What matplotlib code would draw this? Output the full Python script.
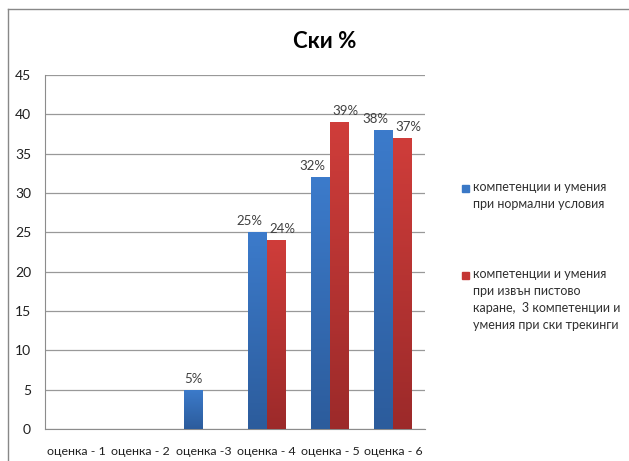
import matplotlib.pyplot as plt
import numpy as np
from matplotlib.colors import LinearSegmentedColormap
from matplotlib.lines import Line2D
from matplotlib.patches import Rectangle

categories = ["оценка - 1", "оценка - 2", "оценка -3", "оценка - 4", "оценка - 5", "оценка - 6"]
normal = [0, 0, 5, 25, 32, 38]
offpiste = [0, 0, 0, 24, 39, 37]
series_names = [
    "компетенции и умения\nпри нормални условия",
    "компетенции и умения\nпри извън пистово\nкаране,  3 компетенции и\nумения при ски трекинги",
]

plt.rcParams["font.family"] = ["Lato", "Noto Sans", "DejaVu Sans"]

fig = plt.figure(figsize=(6.29, 4.61), dpi=100)
ax = fig.add_axes([45 / 629, 1 - 429 / 461, 380 / 629, 354 / 461])

# outer frame (left and top edges only, the rest runs off the image)
fig.add_artist(Line2D([8 / 629, 8 / 629], [0, 1 - 9 / 461], color="#888888", lw=1.0, transform=fig.transFigure))
fig.add_artist(Line2D([8 / 629, 1], [1 - 9 / 461, 1 - 9 / 461], color="#888888", lw=1.0, transform=fig.transFigure))

x = np.arange(len(categories))
w = 0.30

blue_cmap = LinearSegmentedColormap.from_list("b", ["#2c5c9c", "#3c7bcb"])
red_cmap = LinearSegmentedColormap.from_list("r", ["#9c2a2a", "#cf3d3a"])
grad = np.linspace(0, 1, 100).reshape(-1, 1)


def gradient_bars(xs, vals, cmap):
    bars = ax.bar(xs, vals, w, color="none", edgecolor="none", zorder=3)
    for b in bars:
        h = b.get_height()
        if h <= 0:
            continue
        x0 = b.get_x()
        im = ax.imshow(grad, cmap=cmap, origin="lower", aspect="auto",
                       extent=(x0, x0 + w, 0, h), zorder=3)
        im.set_clip_path(b)
    return bars


gradient_bars(x - w / 2, normal, blue_cmap)
gradient_bars(x + w / 2, offpiste, red_cmap)

# value labels, nudged sideways like the excel layout
for xs, vals, dx in [(x - w / 2, normal, -8), (x + w / 2, offpiste, 6)]:
    for xi, v in zip(xs, vals):
        if v > 0:
            ax.annotate(f"{v}%", (xi, v), xytext=(dx if v > 5 else 0, 5), textcoords="offset pixels",
                        ha="center", va="bottom", fontsize=9.5, color="#404040", zorder=4)

ax.set_xlim(-0.5, 5.5)
ax.set_ylim(0, 45)
ax.set_yticks(range(0, 46, 5))
ax.set_xticks(x)
ax.set_xticklabels(categories)
ax.tick_params(axis="y", length=0, pad=10, labelsize=10, colors="#202020")
ax.tick_params(axis="x", length=0, pad=12, labelsize=8.9, colors="#202020")
ax.yaxis.grid(True, color="#999999", lw=0.9, zorder=0)
ax.set_axisbelow(True)
for s in ["top", "right"]:
    ax.spines[s].set_visible(False)
ax.spines["left"].set_color("#8c8c8c")
ax.spines["bottom"].set_color("#8c8c8c")

fig.text(325 / 629, 1 - 42 / 461, "Ски %", ha="center", va="center", fontsize=16, fontweight="bold", color="#000000")

# legend
leg_items = [(188, "#3a78c6", series_names[0]), (275, "#c43634", series_names[1])]
for y, c, label in leg_items:
    fig.add_artist(Rectangle((462 / 629, 1 - (y + 4) / 461), 7 / 629, 7 / 461, color=c, transform=fig.transFigure))
    fig.text(473 / 629, 1 - (y - 7) / 461, label, ha="left", va="top", fontsize=9, color="#303030", linespacing=1.5)

fig.savefig("out.png", dpi=100)
